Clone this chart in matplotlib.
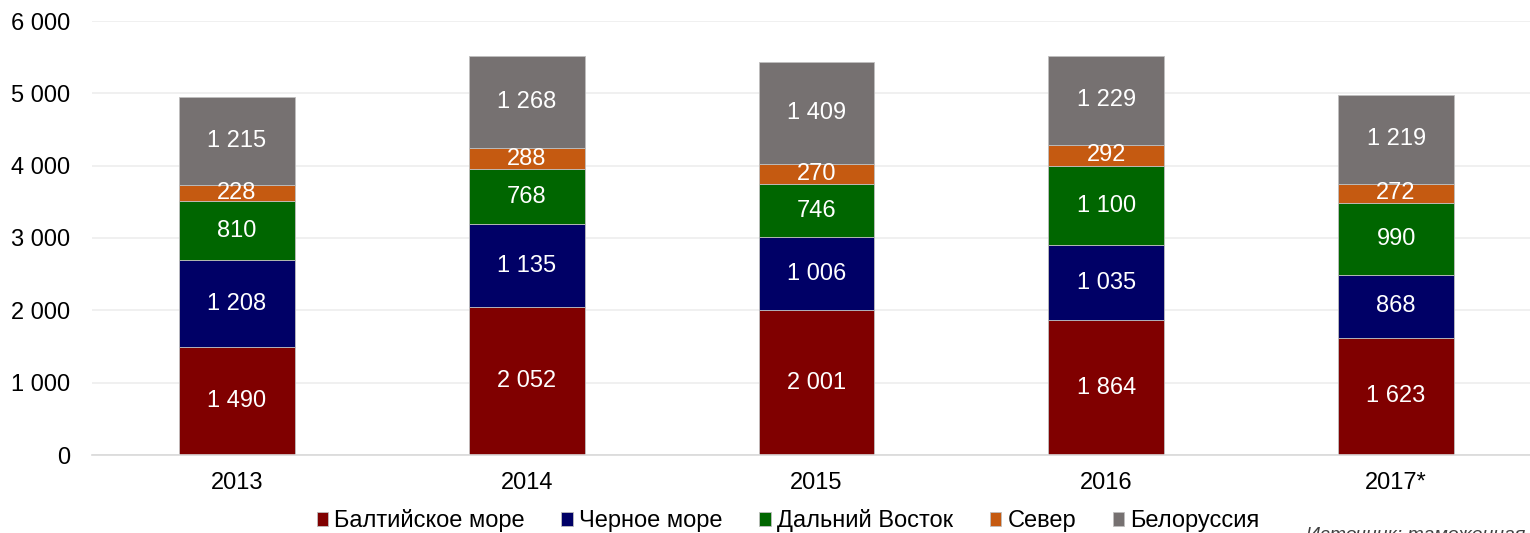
import numpy as np
import matplotlib.pyplot as plt
from matplotlib.ticker import FuncFormatter

plt.rcParams['font.family'] = ['Liberation Sans', 'DejaVu Sans']

years = ["2013", "2014", "2015", "2016", "2017*"]
series_names = ["Балтийское море", "Черное море", "Дальний Восток", "Север", "Белоруссия"]
baltic = [1490, 2052, 2001, 1864, 1623]
black_sea = [1208, 1135, 1006, 1035, 868]
far_east = [810, 768, 746, 1100, 990]
north = [228, 288, 270, 292, 272]
belarus = [1215, 1268, 1409, 1229, 1219]
colors = ["#800000", "#000066", "#006600", "#C55A11", "#767171"]


def fmt(v):
    return f"{v:,.0f}".replace(",", " ")


fig = plt.figure(figsize=(15.3, 5.33), dpi=100)
ax = fig.add_axes([92 / 1530, 78 / 533, 1449 / 1530, 434 / 533])

x = np.arange(len(years))
bottom = np.zeros(len(years))
for name, vals, c in zip(series_names, [baltic, black_sea, far_east, north, belarus], colors):
    vals = np.array(vals)
    ax.bar(x, vals, 0.4, bottom=bottom, color=c, label=name,
           edgecolor="#BFBFBF", linewidth=0.6, zorder=2)
    for xi, b, v in zip(x, bottom, vals):
        ax.text(xi, b + v / 2, fmt(v), ha="center", va="center",
                color="white", fontsize=17, zorder=3)
    bottom += vals

ax.set_xlim(-0.5, len(years) - 0.5)
ax.set_ylim(0, 6000)
ax.set_yticks(range(0, 6001, 1000))
ax.yaxis.set_major_formatter(FuncFormatter(lambda v, p: fmt(v)))
ax.set_xticks(x)
ax.set_xticklabels(years)
ax.tick_params(axis="both", length=0, labelsize=17, colors="black")
ax.tick_params(axis="y", pad=16)
ax.tick_params(axis="x", pad=12)
ax.grid(axis="y", color="#EEEEEE", linewidth=1.2, zorder=0)
for s in ["top", "right", "left"]:
    ax.spines[s].set_visible(False)
ax.spines["bottom"].set_color("#D9D9D9")
ax.spines["bottom"].set_linewidth(1.2)

fig.legend(loc="center", bbox_to_anchor=(788 / 1530, 1 - 521 / 533), ncol=5,
           frameon=False, fontsize=17, handlelength=0.5, handleheight=0.5,
           handletextpad=0.25, columnspacing=1.55, borderpad=0)

fig.text(1306 / 1530, 1 - 527 / 533, "Источник: таможенная статистика",
         ha="left", va="top", fontsize=14, style="italic", color="#404040")

fig.savefig("out.png", dpi=100)
